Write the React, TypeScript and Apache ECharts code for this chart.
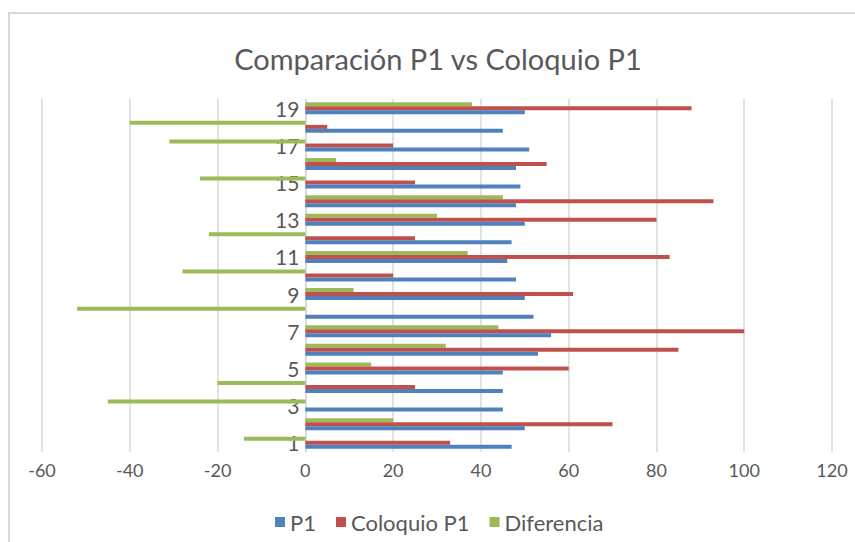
import React, { useEffect, useRef } from "react";
import * as echarts from "echarts";

const categories = ["1","2","3","4","5","6","7","8","9","10","11","12","13","14","15","16","17","18","19"];
const p1 = [47, 50, 45, 45, 45, 53, 56, 52, 50, 48, 46, 47, 50, 48, 49, 48, 51, 45, 50];
const coloquio = [33, 70, 0, 25, 60, 85, 100, 0, 61, 20, 83, 25, 80, 93, 25, 55, 20, 5, 88];
const diferencia = [-14, 20, -45, -20, 15, 32, 44, -52, 11, -28, 37, -22, 30, 45, -24, 7, -31, -40, 38];
const xTicks = { min: -60, max: 120, interval: 20 };

const FONT = "Lato, 'Open Sans', sans-serif";
const TXT = "#595959";
const GRID_LEFT = 42;
const GRID_RIGHT = 23;
const WIDTH = 855;

export default function App() {
  const ref = useRef<HTMLDivElement>(null);
  useEffect(() => {
    if (!ref.current) return;
    const chart = echarts.init(ref.current, null, { renderer: "svg" });
    const plotW = WIDTH - GRID_LEFT - GRID_RIGHT;
    const zeroOffset = ((0 - xTicks.min) / (xTicks.max - xTicks.min)) * plotW;
    chart.setOption({
      animation: false,
      backgroundColor: "#ffffff",
      title: {
        text: "Comparación P1 vs Coloquio P1",
        left: 433,
        textAlign: "center",
        top: 39,
        textStyle: { fontFamily: FONT, fontSize: 29, fontWeight: "normal", color: TXT },
      },
      graphic: [
        {
          type: "rect",
          shape: { x: 9, y: 13, width: 880, height: 560 },
          style: { fill: "none", stroke: "#d9d9d9", lineWidth: 2 },
          silent: true,
        },
      ],
      legend: {
        data: ["P1", "Coloquio P1", "Diferencia"],
        bottom: 4,
        left: 270,
        itemWidth: 10,
        itemHeight: 10,
        itemGap: 20,
        icon: "rect",
        textStyle: { fontFamily: FONT, fontSize: 22, color: TXT },
      },
      grid: { left: GRID_LEFT, right: GRID_RIGHT, top: 99, bottom: 90, containLabel: false },
      xAxis: {
        type: "value",
        min: xTicks.min,
        max: xTicks.max,
        interval: xTicks.interval,
        axisLine: { show: false },
        axisTick: { show: false },
        axisLabel: { fontFamily: FONT, fontSize: 18, color: TXT, margin: 9 },
        splitLine: { show: true, lineStyle: { color: "#d9d9d9", width: 1.5 } },
      },
      yAxis: {
        type: "category",
        data: categories,
        offset: -zeroOffset,
        axisLine: { show: true, onZero: false, lineStyle: { color: "#d9d9d9", width: 1.5 } },
        axisTick: { show: false },
        axisLabel: { interval: 1, fontFamily: FONT, fontSize: 21, color: TXT, margin: 6 },
        splitLine: { show: false },
      },
      series: [
        {
          name: "Diferencia",
          type: "bar",
          data: diferencia,
          itemStyle: { color: "#9BBB59" },
          barWidth: 4,
          barGap: "0%",
        },
        {
          name: "Coloquio P1",
          type: "bar",
          data: coloquio,
          itemStyle: { color: "#C0504D" },
          barWidth: 4,
          barGap: "0%",
        },
        {
          name: "P1",
          type: "bar",
          data: p1,
          itemStyle: { color: "#4F81BD" },
          barWidth: 4,
          barGap: "0%",
        },
      ],
    });
    return () => chart.dispose();
  }, []);
  return (
    <div
      ref={ref}
      style={{ position: "absolute", left: 0, top: 0, width: WIDTH, height: 542 }}
    />
  );
}
